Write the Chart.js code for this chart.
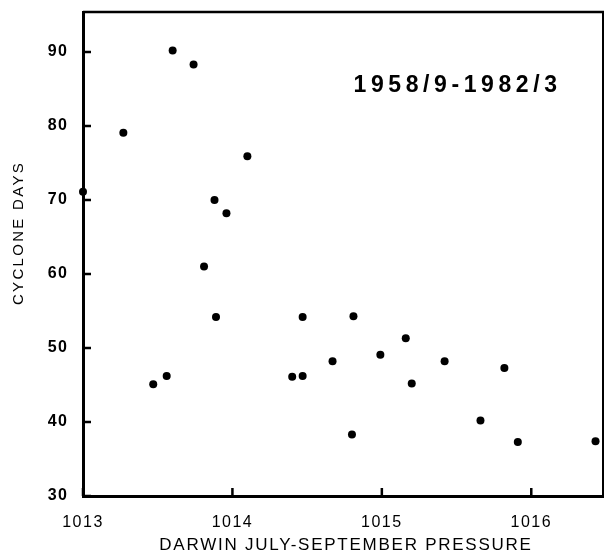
<!DOCTYPE html>
<html lang="en">
<head>
  <meta charset="UTF-8">
  <title>Cyclone Days vs Darwin Pressure</title>
  <script src="https://cdn.jsdelivr.net/npm/chart.js"></script>
  <style>
    body { margin: 0; background: #fff; }
  </style>
</head>
<body>
<canvas id="scatter" width="607" height="553"></canvas>
<script>
  // Darwin Jul-Sep mean pressure (mb) vs cyclone days, 1958/9-1982/3
  const pressure = [1013.00, 1013.27, 1013.60, 1013.74, 1014.10, 1013.88, 1013.96, 1013.81,
    1013.89, 1013.47, 1013.56, 1014.40, 1014.47, 1014.47, 1014.81, 1014.67, 1014.80,
    1014.99, 1015.16, 1015.20, 1015.42, 1015.66, 1015.82, 1015.91, 1016.43];
  const cycloneDays = [71.1, 79.1, 90.2, 88.3, 75.9, 70.0, 68.2, 61.0,
    54.2, 45.1, 46.2, 46.1, 54.2, 46.2, 54.3, 48.2, 38.3,
    49.1, 51.3, 45.2, 48.2, 40.2, 47.3, 37.3, 37.4];

  const xTicks = [1013, 1014, 1015, 1016];
  const yTicks = [30, 40, 50, 60, 70, 80, 90];
  const periodLabel = '1958/9-1982/3';
  const xTitle = 'DARWIN JULY-SEPTEMBER PRESSURE';
  const yTitle = 'CYCLONE DAYS';

  const points = pressure.map((p, i) => ({x: p, y: cycloneDays[i]}));
  const FONT = '"Liberation Sans", Arial, sans-serif';

  const decor = {
    id: 'decor',
    beforeDraw(chart) {
      chart.ctx.letterSpacing = '1.5px';
    },
    afterDraw(chart) {
      const ctx = chart.ctx;
      const a = chart.chartArea;
      const sx = chart.scales.x, sy = chart.scales.y;
      ctx.save();
      ctx.strokeStyle = '#000';

      // top and right frame
      ctx.lineWidth = 2.5;
      ctx.beginPath();
      ctx.moveTo(a.left, a.top);
      ctx.lineTo(a.right + 1, a.top);
      ctx.stroke();
      ctx.lineWidth = 2;
      ctx.beginPath();
      ctx.moveTo(a.right, a.top - 1);
      ctx.lineTo(a.right, a.bottom + 1);
      ctx.stroke();

      // inward tick marks
      ctx.lineWidth = 2.5;
      ctx.beginPath();
      xTicks.forEach(v => {
        const px = sx.getPixelForValue(v);
        ctx.moveTo(px, a.bottom);
        ctx.lineTo(px, a.bottom - 8);
      });
      yTicks.forEach(v => {
        const py = sy.getPixelForValue(v);
        ctx.moveTo(a.left, py);
        ctx.lineTo(a.left + 8, py);
      });
      ctx.stroke();

      ctx.fillStyle = '#000';
      ctx.textBaseline = 'middle';
      ctx.textAlign = 'center';

      // period label inside the plot
      ctx.font = 'bold 23px ' + FONT;
      ctx.letterSpacing = '4.6px';
      ctx.fillText(periodLabel, sx.getPixelForValue(1015.5) + 1, sy.getPixelForValue(85.4));

      // axis titles
      ctx.letterSpacing = '1.75px';
      ctx.font = '17px ' + FONT;
      ctx.fillText(xTitle, (a.left + a.right) / 2 + 3, 545);

      ctx.letterSpacing = '2.3px';
      ctx.font = '15px ' + FONT;
      ctx.translate(19, 233);
      ctx.rotate(-Math.PI / 2);
      ctx.fillText(yTitle, 0, 0);
      ctx.restore();
    }
  };

  new Chart(document.getElementById('scatter'), {
    type: 'scatter',
    data: {
      datasets: [{
        data: points,
        backgroundColor: '#000',
        borderWidth: 0,
        pointRadius: 4,
        clip: false
      }]
    },
    options: {
      responsive: false,
      animation: false,
      layout: { padding: { top: 12, right: 3, left: 0, bottom: 0 } },
      plugins: { legend: { display: false }, tooltip: { enabled: false } },
      scales: {
        x: {
          type: 'linear',
          min: 1013,
          max: 1016.48,
          afterBuildTicks: s => { s.ticks = xTicks.map(v => ({value: v})); },
          afterFit: s => { s.height = 57; s.paddingLeft = 0; s.paddingRight = 0; },
          border: { color: '#000', width: 3 },
          grid: { display: false, drawTicks: false },
          ticks: {
            color: '#000',
            padding: 16.5,
            maxRotation: 0,
            callback: v => String(v),
            font: { family: FONT, size: 16 }
          }
        },
        y: {
          type: 'linear',
          min: 30,
          max: 95.4,
          afterBuildTicks: s => { s.ticks = yTicks.map(v => ({value: v})); },
          afterFit: s => { s.width = 83; s.paddingTop = 0; s.paddingBottom = 0; },
          border: { color: '#000', width: 3 },
          grid: { display: false, drawTicks: false },
          ticks: {
            color: '#000',
            padding: 14.5,
            callback: v => String(v),
            font: { family: FONT, size: 16, weight: 'bold' }
          }
        }
      }
    },
    plugins: [decor]
  });
</script>
</body>
</html>
